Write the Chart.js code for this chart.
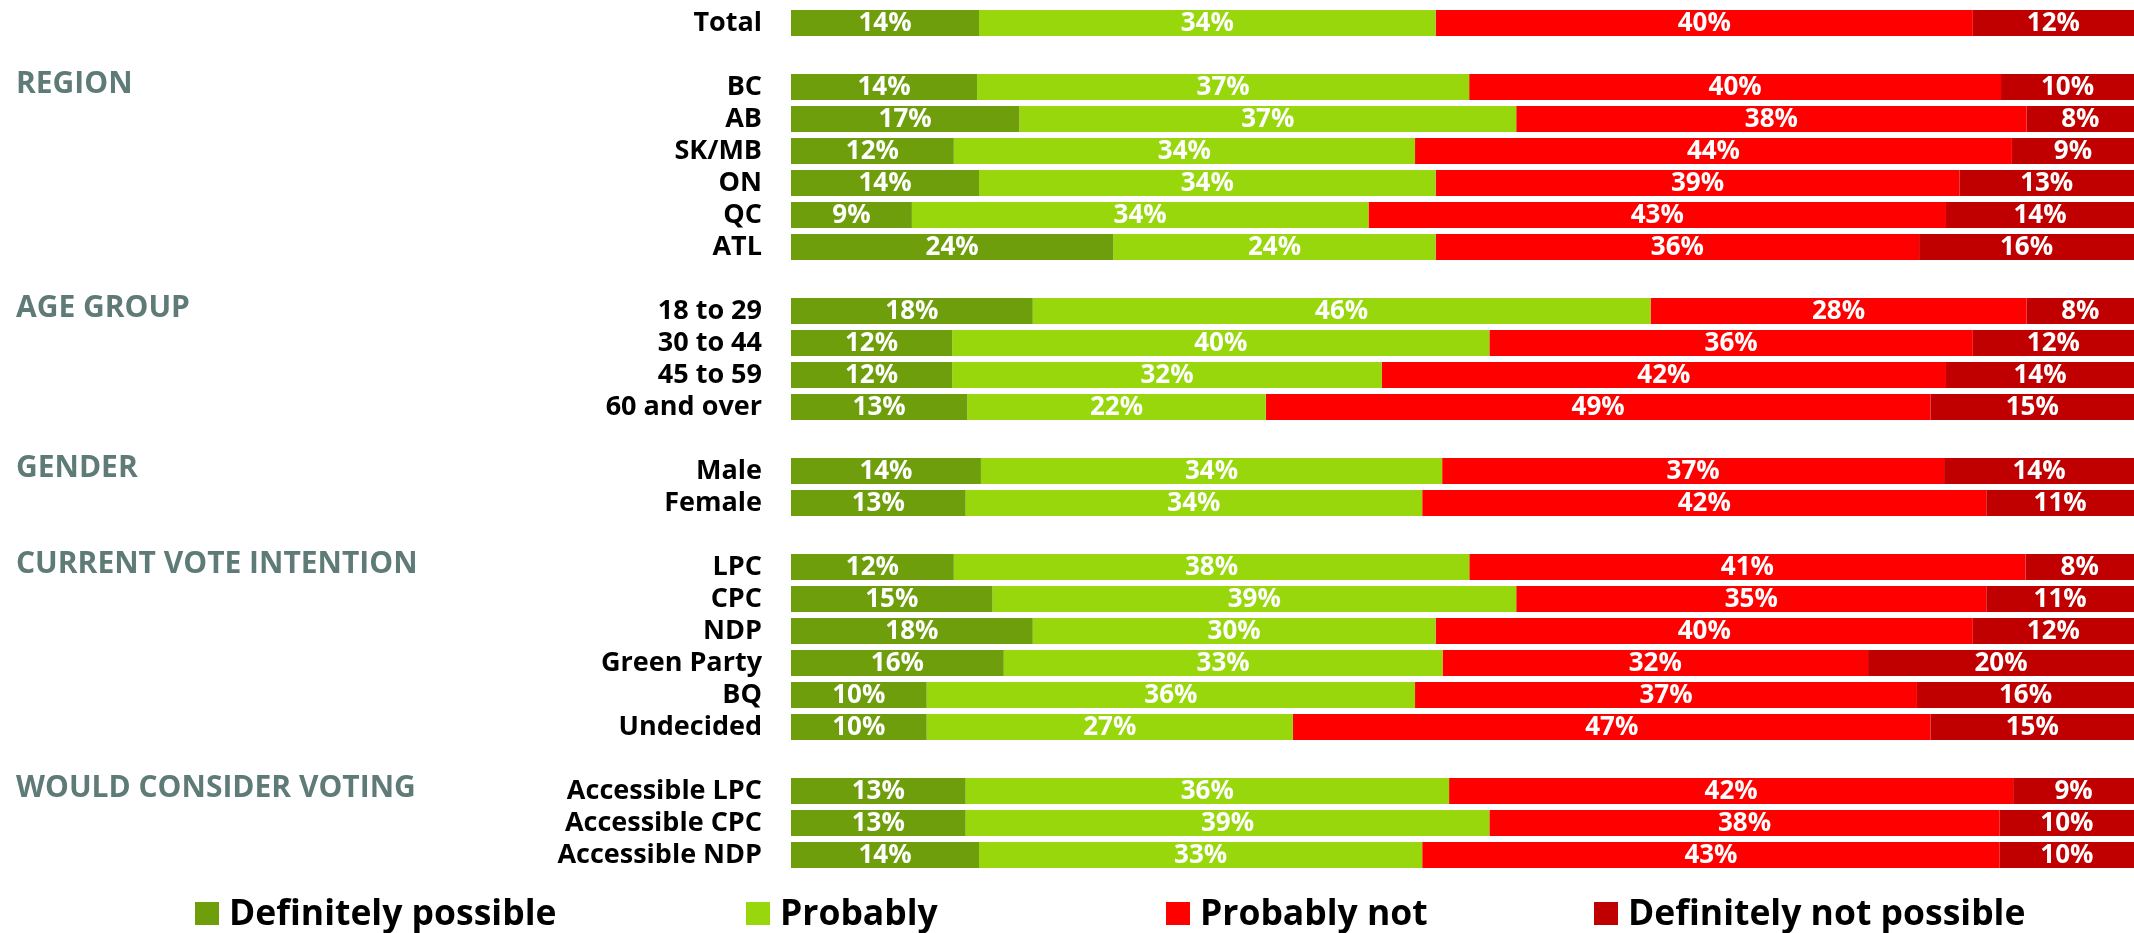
<!DOCTYPE html>
<html>
<head>
<meta charset="utf-8">
<script src="https://cdn.jsdelivr.net/npm/chart.js@4.4.0/dist/chart.umd.min.js"></script>
<style>
  body { margin: 0; background: #fff; }
  #wrap { width: 2134px; height: 933px; position: relative; }
</style>
</head>
<body>
<div id="wrap"><canvas id="chart"></canvas></div>
<script>
// '' = empty spacer row between groups
const categories = [
  'Total', '',
  'BC', 'AB', 'SK/MB', 'ON', 'QC', 'ATL', '',
  '18 to 29', '30 to 44', '45 to 59', '60 and over', '',
  'Male', 'Female', '',
  'LPC', 'CPC', 'NDP', 'Green Party', 'BQ', 'Undecided', '',
  'Accessible LPC', 'Accessible CPC', 'Accessible NDP'
];
const definitelyPossible = [14, null, 14, 17, 12, 14, 9, 24, null, 18, 12, 12, 13, null, 14, 13, null, 12, 15, 18, 16, 10, 10, null, 13, 13, 14];
const probably           = [34, null, 37, 37, 34, 34, 34, 24, null, 46, 40, 32, 22, null, 34, 34, null, 38, 39, 30, 33, 36, 27, null, 36, 39, 33];
const probablyNot        = [40, null, 40, 38, 44, 39, 43, 36, null, 28, 36, 42, 49, null, 37, 42, null, 41, 35, 40, 32, 37, 47, null, 42, 38, 43];
const definitelyNot      = [12, null, 10,  8,  9, 13, 14, 16, null,  8, 12, 14, 15, null, 14, 11, null,  8, 11, 12, 20, 16, 15, null,  9, 10, 10];

// group headings and the row they sit next to
const sectionTitles = ['REGION', 'AGE GROUP', 'GENDER', 'CURRENT VOTE INTENTION', 'WOULD CONSIDER VOTING'];
const sectionRows   = ['BC', '18 to 29', 'Male', 'LPC', 'Accessible LPC'];

const FONT = '"Open Sans", "DejaVu Sans", sans-serif';

// rounded values don't always add to 100; bars are drawn full width like the original
const series = [definitelyPossible, probably, probablyNot, definitelyNot];
const rowTotals = categories.map((c, i) => series.reduce((s, arr) => s + (arr[i] || 0), 0));
const share = arr => arr.map((v, i) => v == null ? null : v / rowTotals[i] * 100);

const barLabels = {
  id: 'barLabels',
  afterDatasetsDraw(chart) {
    const ctx = chart.ctx;
    ctx.save();
    ctx.font = '700 26px ' + FONT;
    ctx.fillStyle = '#fff';
    ctx.textAlign = 'center';
    ctx.textBaseline = 'middle';
    chart.data.datasets.forEach((ds, i) => {
      chart.getDatasetMeta(i).data.forEach((bar, j) => {
        const v = ds.values[j];
        if (v == null) return;
        ctx.fillText(v + '%', (bar.base + bar.x) / 2, bar.y + 1);
      });
    });
    ctx.restore();
  }
};

const sectionHeads = {
  id: 'sectionHeads',
  afterDraw(chart) {
    const ctx = chart.ctx;
    const y = chart.scales.y;
    ctx.save();
    ctx.font = '700 30px ' + FONT;
    ctx.fillStyle = '#5f7b77';
    ctx.textAlign = 'left';
    ctx.textBaseline = 'middle';
    sectionTitles.forEach((t, i) => {
      const row = categories.indexOf(sectionRows[i]);
      ctx.fillText(t, 16, y.getPixelForValue(row) - 3);
    });
    ctx.restore();
  }
};

const legendStarts = [195, 746, 1166, 1594];
const bottomLegend = {
  id: 'bottomLegend',
  afterDraw(chart) {
    const ctx = chart.ctx;
    ctx.save();
    ctx.font = '700 35.5px ' + FONT;
    ctx.textAlign = 'left';
    ctx.textBaseline = 'alphabetic';
    const base = 925;
    chart.data.datasets.forEach((ds, i) => {
      const x = legendStarts[i];
      ctx.fillStyle = ds.backgroundColor;
      ctx.fillRect(x, base - 23, 24, 23);
      ctx.fillStyle = '#000';
      ctx.fillText(ds.label, x + 34, base);
    });
    ctx.restore();
  }
};

new Chart(document.getElementById('chart'), {
  type: 'bar',
  data: {
    labels: categories,
    datasets: [
      { label: 'Definitely possible', values: definitelyPossible, data: share(definitelyPossible), backgroundColor: '#6e9e0b' },
      { label: 'Probably', values: probably, data: share(probably), backgroundColor: '#97d70b' },
      { label: 'Probably not', values: probablyNot, data: share(probablyNot), backgroundColor: '#ff0000' },
      { label: 'Definitely not possible', values: definitelyNot, data: share(definitelyNot), backgroundColor: '#c00000' }
    ]
  },
  options: {
    indexAxis: 'y',
    responsive: true,
    maintainAspectRatio: false,
    animation: false,
    layout: { padding: { top: 7, bottom: 62, left: 0, right: 0 } },
    datasets: { bar: { barPercentage: 0.82, categoryPercentage: 1, borderWidth: 0 } },
    plugins: { legend: { display: false }, tooltip: { enabled: false } },
    scales: {
      x: { stacked: true, min: 0, max: 100, display: false },
      y: {
        stacked: true,
        grid: { display: false, drawTicks: false },
        border: { display: false },
        ticks: { color: '#000', font: { family: FONT, size: 27, weight: '700' }, padding: 29, autoSkip: false },
        afterFit(axis) { axis.width = 791; axis.paddingTop = 0; axis.paddingBottom = 0; }
      }
    }
  },
  plugins: [barLabels, sectionHeads, bottomLegend]
});
</script>
</body>
</html>
